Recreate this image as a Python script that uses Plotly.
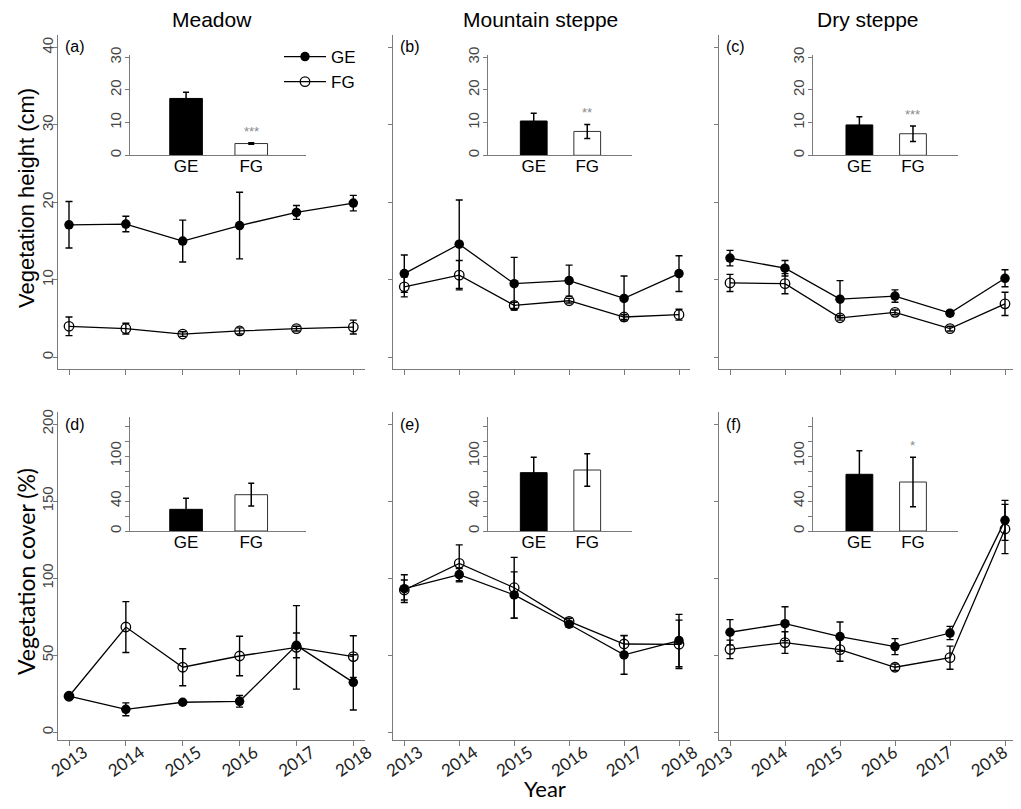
import plotly.graph_objects as go

# browser page has an 8px body margin; the figure fills the rest of the window
PAGE_W, PAGE_H = 1021, 809
OFF = 8
W, H = PAGE_W - 2 * OFF, PAGE_H - 2 * OFF

years = [2013, 2014, 2015, 2016, 2017, 2018]
habitats = ["Meadow", "Mountain steppe", "Dry steppe"]
panel_labels_top = ["(a)", "(b)", "(c)"]
panel_labels_bottom = ["(d)", "(e)", "(f)"]
groups = ["GE", "FG"]

# Vegetation height (cm), yearly means and error bars
height_ge = [
    [17.1, 17.2, 15.0, 17.0, 18.7, 19.9],
    [10.8, 14.6, 9.5, 9.9, 7.6, 10.8],
    [12.8, 11.5, 7.5, 7.9, 5.7, 10.2],
]
height_ge_err = [
    [3.0, 1.0, 2.7, 4.3, 0.9, 1.0],
    [2.4, 5.7, 3.4, 2.0, 2.9, 2.3],
    [1.0, 1.0, 2.4, 0.8, 0.3, 1.1],
]
height_fg = [
    [4.0, 3.7, 3.0, 3.4, 3.7, 3.9],
    [9.1, 10.6, 6.7, 7.3, 5.2, 5.5],
    [9.6, 9.5, 5.1, 5.8, 3.7, 6.9],
]
height_fg_err = [
    [1.2, 0.7, 0.3, 0.4, 0.3, 0.9],
    [1.3, 1.9, 0.4, 0.3, 0.3, 0.7],
    [1.1, 1.3, 0.3, 0.3, 0.3, 1.5],
]

# Vegetation cover (%), yearly means and error bars
cover_ge = [
    [23.4, 14.9, 19.5, 20.1, 56.4, 32.4],
    [93.2, 102.3, 89.1, 70.1, 50.2, 59.5],
    [64.9, 70.5, 62.1, 55.6, 64.4, 137.5],
]
cover_ge_err = [
    [1.0, 4.2, 0.5, 3.8, 8.0, 17.9],
    [9.0, 4.0, 15.0, 2.0, 12.5, 17.0],
    [8.2, 11.0, 9.5, 5.2, 4.3, 13.0],
]
cover_fg = [
    [23.4, 68.3, 42.2, 49.5, 55.1, 49.1],
    [92.3, 109.6, 93.8, 72.0, 57.3, 57.1],
    [53.8, 58.2, 53.6, 42.2, 48.4, 131.9],
]
cover_fg_err = [
    [1.0, 16.5, 12.0, 12.8, 27.1, 13.5],
    [6.5, 12.0, 19.7, 2.0, 5.5, 15.7],
    [6.0, 7.0, 7.5, 2.0, 7.5, 16.0],
]

# Inset bar charts: overall means (GE, FG) per habitat
height_bar = [[17.4, 3.6], [10.5, 7.3], [9.3, 6.6]]
height_bar_err = [[1.9, 0.25], [2.4, 2.15], [2.5, 2.4]]
height_stars = ["***", "**", "***"]
cover_bar = [[28.9, 48.4], [77.8, 81.3], [75.6, 65.3]]
cover_bar_err = [[14.7, 15.2], [20.4, 21.6], [31.4, 33.0]]
cover_stars = ["", "", "*"]

height_ticks = [0, 10, 20, 30, 40]
cover_ticks = [0, 50, 100, 150, 200]
inset_height_ticks = [0, 10, 20, 30]
inset_cover_ticks = [0, 20, 40, 60, 80, 100, 120, 140]
inset_cover_ticklabels = ["0", "", "40", "", "", "100", "", ""]

FONT = "Liberation Sans, Arial, sans-serif"
FONT2 = "Lato, Open Sans, sans-serif"
AXC = "#7a7a7a"
TICKC = "#444444"


def fx(px):
    return min(1.0, max(0.0, (px - OFF) / W))


def fy(py):
    return min(1.0, max(0.0, 1 - (py - OFF) / H))


# pixel layout (page coordinates)
main_cols = [(57.7, 364.7), (393.3, 690.0), (719.3, PAGE_W - OFF)]
first_last_year_px = [(69.0, 353.3), (404.3, 679.0), (730.0, 1005.0)]
year_label_shift = [15, 15, -1]
main_rows = [(35.0, 369.3), (411.7, 740.0)]
inset_cols = [(130.0, 306.0), (487.7, 632.2), (813.3, 958.0)]
inset_rows = [(55.0, 155.3), (416.7, 531.0)]

fig = go.Figure()
layout = dict(
    width=W, height=H,
    margin=dict(l=0, r=0, t=0, b=0, pad=0, autoexpand=False),
    paper_bgcolor="white", plot_bgcolor="rgba(0,0,0,0)",
    showlegend=True,
    font=dict(family=FONT, color="black"),
)
annotations = []

idx = 0
for r in range(2):
    for c in range(3):
        idx += 1
        sfx = "" if idx == 1 else str(idx)
        xa, ya = "x" + sfx, "y" + sfx
        if r == 0:
            ge, ge_e, fg, fg_e = height_ge[c], height_ge_err[c], height_fg[c], height_fg_err[c]
            yr, yt = [-1.55, 41.6], height_ticks
        else:
            ge, ge_e, fg, fg_e = cover_ge[c], cover_ge_err[c], cover_fg[c], cover_fg_err[c]
            yr, yt = [-5, 208], cover_ticks
        show_leg = (idx == 1)
        fig.add_trace(go.Scatter(
            x=years, y=fg, mode="lines+markers", name="FG", legendrank=2,
            showlegend=show_leg, xaxis=xa, yaxis=ya,
            line=dict(color="black", width=1.3),
            marker=dict(symbol="circle-open", size=9.5, color="black", line=dict(width=1.3)),
            error_y=dict(type="data", array=fg_e, visible=True, color="black", thickness=1.4, width=3.5),
        ))
        fig.add_trace(go.Scatter(
            x=years, y=ge, mode="lines+markers", name="GE", legendrank=1,
            showlegend=show_leg, xaxis=xa, yaxis=ya,
            line=dict(color="black", width=1.3),
            marker=dict(symbol="circle", size=9.5, color="black"),
            error_y=dict(type="data", array=ge_e, visible=True, color="black", thickness=1.4, width=3.5),
        ))
        x0, x1 = main_cols[c]
        p0, p1 = first_last_year_px[c]
        ppy = (p1 - p0) / (years[-1] - years[0])
        xr = [years[0] - (p0 - x0) / ppy, years[0] + (x1 - p0) / ppy]
        y0, y1 = main_rows[r]
        layout["xaxis" + sfx] = dict(
            domain=[fx(x0), fx(x1)], range=xr, anchor=ya, automargin=False,
            tickvals=years, ticktext=[str(v) for v in years],
            showticklabels=(r == 1), tickangle=-35, ticklabelshift=year_label_shift[c],
            ticklabelstandoff=-10, ticklabeloverflow="allow",
            tickfont=dict(family=FONT2, size=17, color="#222222"),
            showline=True, linecolor=AXC, linewidth=1.2, mirror=False,
            ticks="outside", ticklen=5, tickcolor=AXC,
            showgrid=False, zeroline=False,
        )
        layout["yaxis" + sfx] = dict(
            domain=[fy(y1), fy(y0)], range=yr, anchor=xa, automargin=False,
            tickvals=yt, ticktext=[str(v) for v in yt],
            showticklabels=(c == 0), tickangle=-90, ticklabelstandoff=-6,
            tickfont=dict(family=FONT, size=15, color=TICKC),
            showline=True, linecolor=AXC, linewidth=1.2, mirror=False,
            ticks="outside", ticklen=4, tickcolor=AXC,
            showgrid=False, zeroline=False,
        )
        lab = panel_labels_top[c] if r == 0 else panel_labels_bottom[c]
        annotations.append(dict(
            text=lab, xref="paper", yref="paper", x=fx(x0 + 5), y=fy(46 if r == 0 else 425),
            xanchor="left", yanchor="middle", showarrow=False,
            font=dict(family=FONT, size=16, color="black"),
        ))

# insets
for r in range(2):
    for c in range(3):
        idx += 1
        sfx = str(idx)
        xa, ya = "x" + sfx, "y" + sfx
        if r == 0:
            vals, errs, star = height_bar[c], height_bar_err[c], height_stars[c]
            yr, yt, ytt = [0, 30.7], inset_height_ticks, [str(v) for v in inset_height_ticks]
        else:
            vals, errs, star = cover_bar[c], cover_bar_err[c], cover_stars[c]
            yr, yt, ytt = [0, 152.4], inset_cover_ticks, inset_cover_ticklabels
        fig.add_trace(go.Bar(
            x=groups, y=vals, width=0.5, showlegend=False, xaxis=xa, yaxis=ya,
            marker=dict(color=["black", "white"], line=dict(color=["black", "#333333"], width=1)),
            error_y=dict(type="data", array=errs, visible=True, color="black", thickness=1.5, width=3),
        ))
        x0, x1 = inset_cols[c]
        y0, y1 = inset_rows[r]
        layout["xaxis" + sfx] = dict(
            domain=[fx(x0), fx(x1)], range=[-0.86, 1.84], anchor=ya, type="category",
            automargin=False, ticklabelstandoff=-5,
            showline=True, linecolor=AXC, linewidth=1.2, ticks="",
            tickfont=dict(family=FONT, size=17, color="black"),
            showgrid=False, zeroline=False,
        )
        layout["yaxis" + sfx] = dict(
            domain=[fy(y1), fy(y0)], range=yr, anchor=xa, automargin=False,
            tickvals=yt, ticktext=ytt, tickangle=-90, ticklabelstandoff=-2,
            tickfont=dict(family=FONT, size=15, color=TICKC),
            showline=True, linecolor=AXC, linewidth=1.2,
            ticks="outside", ticklen=4, tickcolor=AXC,
            showgrid=False, zeroline=False,
        )
        if star:
            annotations.append(dict(
                text=star, xref=xa, yref=ya, x=groups[1], y=vals[1] + errs[1],
                xanchor="center", yanchor="bottom", yshift=2, showarrow=False,
                font=dict(family=FONT, size=13, color="#8a8a8a"),
            ))

for name, xc in zip(habitats, [212, 540, 868]):
    annotations.append(dict(
        text=name, xref="paper", yref="paper", x=fx(xc), y=fy(20),
        xanchor="center", yanchor="middle", showarrow=False,
        font=dict(family=FONT, size=21, color="black"),
    ))

annotations.append(dict(
    text="Vegetation height (cm)", xref="paper", yref="paper", x=fx(26), y=fy(198),
    xanchor="center", yanchor="middle", textangle=-90, showarrow=False,
    font=dict(family=FONT, size=22, color="black"),
))
annotations.append(dict(
    text="Vegetation cover (%)", xref="paper", yref="paper", x=fx(26), y=fy(572),
    xanchor="center", yanchor="middle", textangle=-90, showarrow=False,
    font=dict(family=FONT2, size=23, color="black"),
))
annotations.append(dict(
    text="Year", xref="paper", yref="paper", x=fx(545), y=fy(788),
    xanchor="center", yanchor="middle", showarrow=False,
    font=dict(family=FONT2, size=22, color="black"),
))

layout["annotations"] = annotations
layout["legend"] = dict(
    x=fx(279), y=fy(39), xanchor="left", yanchor="top",
    bgcolor="rgba(0,0,0,0)", borderwidth=0,
    font=dict(family=FONT, size=17, color="black"),
    traceorder="normal", itemwidth=42,
)
fig.update_layout(**layout)
fig.write_html("out.html")
